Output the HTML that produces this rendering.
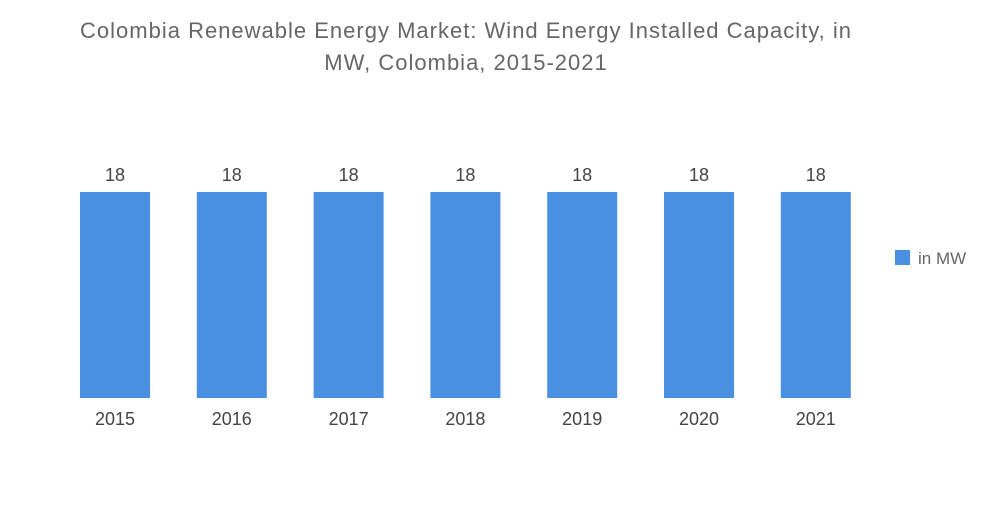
<!DOCTYPE html>
<html><head><meta charset="utf-8"><style>
body{margin:0;background:#fff;width:1000px;height:504px;overflow:hidden;font-family:"Liberation Sans",sans-serif;}
</style></head><body>
<svg width="1000" height="504">
<text x="466" y="38" text-anchor="middle" font-size="22" letter-spacing="1" fill="#666">Colombia Renewable Energy Market: Wind Energy Installed Capacity, in</text>
<text x="466" y="70" text-anchor="middle" font-size="22" letter-spacing="1" fill="#666">MW, Colombia, 2015-2021</text>
<g id="bars"></g>
<rect x="895" y="250" width="15" height="15" fill="#4a90e2"/>
<text x="918" y="264" font-size="17" fill="#666">in MW</text>
</svg>
<script>
const categories=["2015","2016","2017","2018","2019","2020","2021"];
const values=[18,18,18,18,18,18,18];
const yMax=18;
const barGroup=document.getElementById('bars');
const svgNS="http://www.w3.org/2000/svg";
const x0=80,step=116.8,bw=70,plotBottom=398,plotTop=192;
function yScale(v){return plotBottom-(v/yMax)*(plotBottom-plotTop);}
categories.forEach((c,i)=>{
 const x=x0+i*step;
 const r=document.createElementNS(svgNS,'rect');
 r.setAttribute('x',x);r.setAttribute('y',yScale(values[i]));
 r.setAttribute('width',bw);r.setAttribute('height',plotBottom-yScale(values[i]));
 r.setAttribute('fill','#4a90e2');
 
 
 barGroup.appendChild(r);
 const t=document.createElementNS(svgNS,'text');
 t.setAttribute('x',x+bw/2);t.setAttribute('y',yScale(values[i])-11);
 t.setAttribute('text-anchor','middle');t.setAttribute('font-size','18');t.setAttribute('fill','#444');
 t.textContent=values[i];
 
 
 barGroup.appendChild(t);
 const l=document.createElementNS(svgNS,'text');
 l.setAttribute('x',x+bw/2);l.setAttribute('y',425);
 l.setAttribute('text-anchor','middle');l.setAttribute('font-size','18');l.setAttribute('fill','#444');
 l.textContent=c;
 
 
 barGroup.appendChild(l);
});
</script>
</body></html>
